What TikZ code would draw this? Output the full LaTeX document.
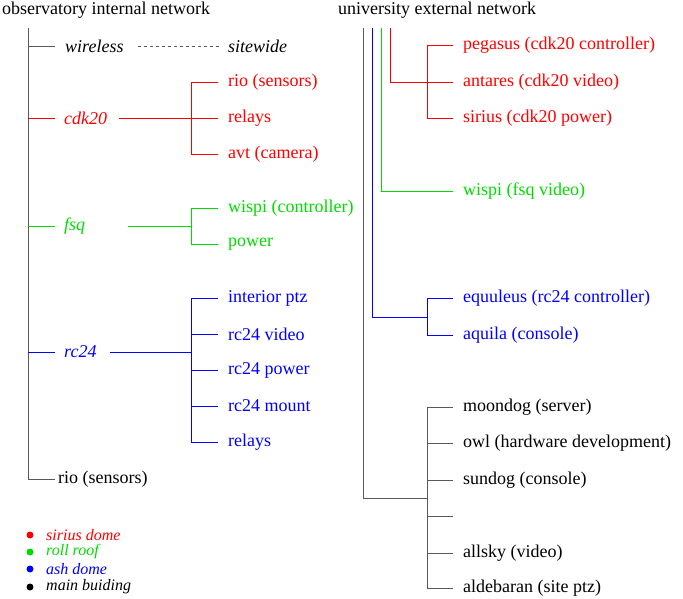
\documentclass[tikz,border=0pt]{standalone}
\usepackage{fontspec}
\setmainfont{Liberation Serif}
\definecolor{gr}{RGB}{0,220,0}
\begin{document}
\begin{tikzpicture}[x=1pt,y=-1pt,font=\rmfamily\fontsize{18}{20}\selectfont,
  t/.style={anchor=west,inner sep=0pt},
  it/.style={t,font=\rmfamily\fontsize{18}{20}\selectfont\itshape},
  R/.style={draw=red,text=red}, B/.style={draw=blue,text=blue}, G/.style={draw=gr,text=gr}, K/.style={draw=black!65}]
\useasboundingbox[fill=white] (0,0) rectangle (683,599);
\node[t] (h1) at (2,10) {observatory internal network};
\node[t] (h2) at (338,10) {university external network};
% left
\draw[K] (28,28) -- (28,479);
\node[it] (wl) at (65,46) {wireless};
\node[it] (sw) at (228,46) {sitewide};
\draw[K] (28,46) -- (55,46);
\draw[dashed,K] (138,46) -- (220,46);
% cdk20
\node[it,text=red] (cdk) at (64,118) {cdk20};
\draw[R] (28,118) -- (55,118) (119,118) -- (191,118) (191,82) -- (191,154);
\foreach \y/\s/\n in {82/rio (sensors)/c1,118/relays/c2,154/avt (camera)/c3}{
  \node[t,text=red] (\n) at (228,\y) {\s}; \draw[R] (191,\y) -- (218,\y);}
% fsq
\node[it,text=gr] (fsq) at (64,226) {fsq};
\draw[G] (28,226) -- (55,226) (128,226) -- (191,226) (191,208) -- (191,244);
\foreach \y/\s/\n in {208/wispi (controller)/f1,244/power/f2}{
  \node[t,text=gr] (\n) at (228,\y) {\s}; \draw[G] (191,\y) -- (218,\y);}
% rc24
\node[it,text=blue] (rc) at (64,352) {rc24};
\draw[B] (28,352) -- (55,352) (110,352) -- (191,352) (191,298) -- (191,442);
\foreach \y/\s/\n in {298/interior ptz/r1,334/rc24 video/r2,370/rc24 power/r3,406/rc24 mount/r4,442/relays/r5}{
  \node[t,text=blue] (\n) at (228,\y) {\s}; \draw[B] (191,\y) -- (218,\y);}
\node[t] (rio) at (58,479) {rio (sensors)};
\draw[K] (28,479) -- (55,479);
% right
\draw[K] (363,28) -- (363,498) -- (427,498);
\draw[B] (372,28) -- (372,317) -- (427,317) (427,298) -- (427,335);
\draw[G] (381,28) -- (381,191) -- (453,191);
\draw[R] (390,28) -- (390,82) -- (427,82) (427,45) -- (427,118);
\node[t,text=gr] (w2) at (463,191) {wispi (fsq video)};
\foreach \y/\s/\n in {45/pegasus (cdk20 controller)/p1,82/antares (cdk20 video)/p2,118/sirius (cdk20 power)/p3}{
  \node[t,text=red] (\n) at (463,\y) {\s}; \draw[R] (427,\y) -- (453,\y);}
\foreach \y/\s/\n in {298/equuleus (rc24 controller)/q1,335/aquila (console)/q2}{
  \node[t,text=blue] (\n) at (463,\y) {\s}; \draw[B] (427,\y) -- (453,\y);}
\draw[K] (427,407) -- (427,588);
\foreach \y/\s/\n in {407/moondog (server)/m1,443/owl (hardware development)/m2,480/sundog (console)/m3,516/{}/m4,553/allsky (video)/m5,588/aldebaran (site ptz)/m6}{
  \node[t] (\n) at (463,\y) {\s}; \draw[K] (427,\y) -- (453,\y);}
% legend
\foreach \y/\c/\s/\n in {535/red/sirius dome/l1,552/gr/roll roof/l2,569/blue/ash dome/l3,587/black/main buiding/l4}{
  \fill[\c] (30,\y) circle (3.5);
  \node[t,text=\c,font=\rmfamily\fontsize{16}{17}\selectfont\itshape] (\n) at (46,\y) {\s};}
\end{tikzpicture}
\end{document}
